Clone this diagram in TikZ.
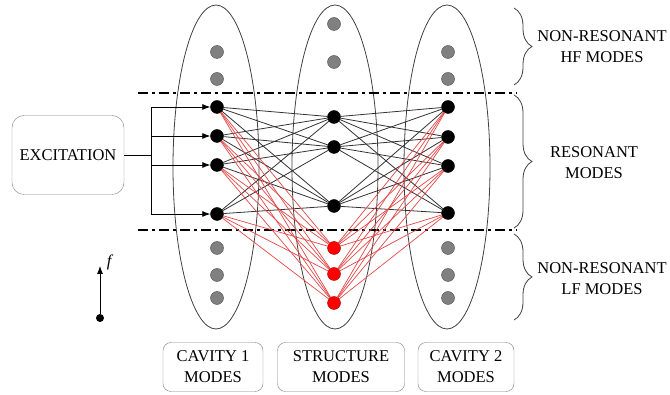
\documentclass[tikz,border=0pt]{standalone}
\usepackage{fontspec}
\setmainfont{Liberation Serif}
\usepackage{amsmath}
\usetikzlibrary{shapes.geometric,decorations.pathreplacing,arrows.meta}
\tikzset{>={Latex[length=8pt,width=6pt]}}
\definecolor{dotgray}{RGB}{128,128,128}
\definecolor{linered}{RGB}{228,70,70}

\begin{document}
\begin{tikzpicture}[x=1pt,y=-1pt,font=\fontsize{16.5}{21}\selectfont,
    resdot/.style={fill=black},
    offdot/.style={fill=dotgray,draw=black!70},
    reddot/.style={fill=red,draw=red!60!black},
    modebox/.style={draw=black!50,rounded corners=8pt,align=center,minimum height=49},
    splitline/.style={line width=1.6pt,dash pattern=on 10pt off 4pt on 3pt off 4pt}]
\useasboundingbox (0,0) rectangle (670,395);

% mode groups
\begin{scope}[every node/.style={ellipse,draw=black!75,thick,minimum width=86,minimum height=324}]
\node (E1) at (216,167) {};
\node (E2) at (335,167) {};
\node (E3) at (447,167) {};
\end{scope}

% HF / LF limits
\coordinate (hf1) at (138,93);
\coordinate (hf2) at (517,93);
\coordinate (lf1) at (138,230);
\coordinate (lf2) at (517,230);
\draw[splitline] (hf1) -- (hf2);
\draw[splitline] (lf1) -- (lf2);

\begin{scope}[every node/.style={circle,draw,inner sep=0pt,minimum size=13}]
% cavity 1
\node[offdot] (Ah1) at (217,52) {};
\node[offdot] (Ah2) at (217,79) {};
\node[resdot] (A1) at (217,107) {};
\node[resdot] (A2) at (217,136) {};
\node[resdot] (A3) at (217,165) {};
\node[resdot] (A4) at (217,214) {};
\node[offdot] (Al1) at (217,248) {};
\node[offdot] (Al2) at (217,275) {};
\node[offdot] (Al3) at (217,298) {};
% structure
\node[offdot] (Sh1) at (334,24) {};
\node[offdot] (Sh2) at (334,62) {};
\node[resdot] (S1) at (334,117) {};
\node[resdot] (S2) at (334,147) {};
\node[resdot] (S3) at (334,206) {};
\node[reddot] (R1) at (334,248) {};
\node[reddot] (R2) at (334,274) {};
\node[reddot] (R3) at (334,303) {};
% cavity 2
\node[offdot] (Bh1) at (448,52) {};
\node[offdot] (Bh2) at (448,79) {};
\node[resdot] (B1) at (448,107) {};
\node[resdot] (B2) at (448,137) {};
\node[resdot] (B3) at (448,166) {};
\node[resdot] (B4) at (448,213) {};
\node[offdot] (Bl1) at (448,248) {};
\node[offdot] (Bl2) at (448,275) {};
\node[offdot] (Bl3) at (448,298) {};
\end{scope}

\begin{scope}[every edge/.style={draw=black!80,line width=0.8pt}]
\foreach \a in {1,...,4}
  \foreach \s in {1,2,3}
    \path (A\a) edge (S\s) (S\s) edge (B\a);
\end{scope}
\begin{scope}[every edge/.style={draw=linered,line width=0.7pt}]
\foreach \a in {1,...,4}
  \foreach \r in {1,2,3}
    \path (A\a) edge (R\r) (R\r) edge (B\a);
\end{scope}

% excitation
\node (exc) [draw=black!50,rounded corners=12pt,minimum width=112,minimum height=79] at (68,155) {EXCITATION};
\coordinate (bus) at (151,155);
\draw[line width=0.8pt] (exc) -- (bus);
\foreach \a in {1,...,4}
  \draw[line width=0.8pt,->] (bus) |- (A\a);

% braces
\coordinate (hfb1) at (514,8);
\coordinate (hfb2) at (514,85);
\coordinate (rb1) at (514,95);
\coordinate (rb2) at (514,228);
\coordinate (lfb1) at (514,234);
\coordinate (lfb2) at (514,320);
\begin{scope}[decoration={brace,amplitude=18pt},draw=black!75,line width=0.8pt]
\draw[decorate] (hfb1) -- (hfb2);
\draw[decorate] (rb1) -- (rb2);
\draw[decorate] (lfb1) -- (lfb2);
\end{scope}
\node (hf) [align=center] at (602,47) {NON-RESONANT\\HF MODES};
\node (res) [align=center] at (594,163) {RESONANT\\MODES};
\node (lf) [align=center] at (602,279) {NON-RESONANT\\LF MODES};

% group names
\node (C1) [modebox,minimum width=100] at (213,367) {CAVITY 1\\MODES};
\node (ST) [modebox,minimum width=127] at (341,367) {STRUCTURE\\MODES};
\node (C2) [modebox,minimum width=96] at (466,367) {CAVITY 2\\MODES};

% frequency axis
\node (f0) [circle,fill,inner sep=0pt,minimum size=8] at (100,318) {};
\coordinate (f1) at (100,266);
\draw[line width=0.8pt,->] (f0) -- (f1);
\node (flab) at (110,262) {\textit{f}};
\end{tikzpicture}
\end{document}
